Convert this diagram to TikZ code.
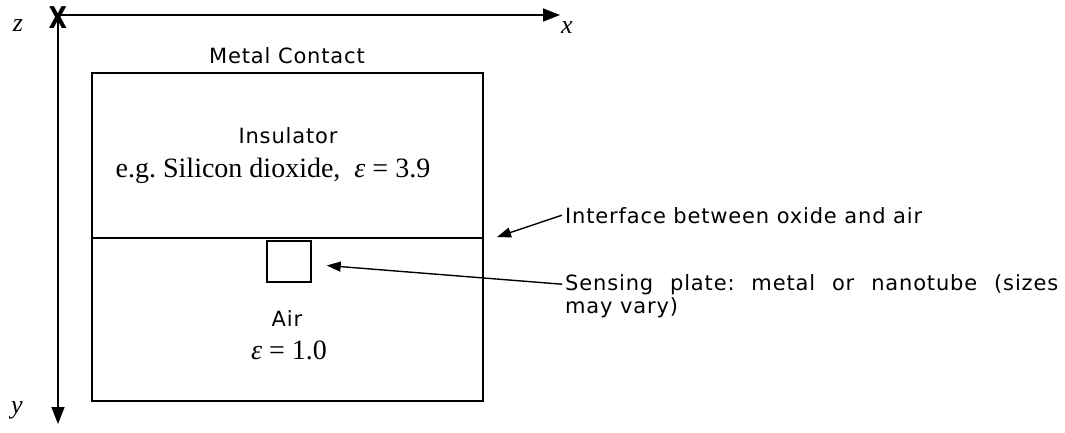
\documentclass[tikz,border=0pt]{standalone}
\usepackage{fontspec}
\setmainfont{Liberation Serif}
\newfontfamily\labelfont[LetterSpace=4]{DejaVu Sans}
\newfontfamily\markfont{DejaVu Sans}
\usetikzlibrary{arrows.meta}
\frenchspacing
\tikzset{
  axis/.style={line width=1.6pt,-{Triangle[length=17pt,width=13pt]}},
  pointer/.style={line width=1.4pt,-{Triangle[length=14pt,width=10pt]}},
  wall/.style={line width=1.6pt},
  lbl/.style={font=\labelfont\fontsize{21}{24}\selectfont,inner sep=0pt,inner xsep=3pt},
  eq/.style={font=\fontsize{28}{32}\selectfont,inner sep=0pt},
  axlbl/.style={font=\itshape\fontsize{26}{28}\selectfont,inner sep=0pt}
}
\begin{document}
\begin{tikzpicture}[x=1pt,y=-1pt]
\useasboundingbox (0,0) rectangle (1065,432);

\coordinate (origin) at (58,15);
\coordinate (xtip) at (560,15);
\coordinate (ytip) at (58,424);
\node[font=\markfont\bfseries\fontsize{30}{30}\selectfont,inner sep=0pt] (xmark) at (58,18) {\scalebox{0.8}[1]{X}};
\draw[axis] (origin) -- (xtip);
\draw[axis] (origin) -- (ytip);
\node[axlbl] (zlabel) at (18,26) {z};
\node[axlbl] (xlabel) at (567,28) {x};
\node[axlbl] (ylabel) at (17,410) {y};

\draw[wall] (92,73) rectangle (483,401);
\draw[line width=1.4pt] (92,238) -- (483,238);
\node[draw,line width=1.4pt,inner sep=0pt,minimum width=44pt,minimum height=41pt] (plate) at (289,261.5) {};

\node[lbl,anchor=base] (contact) at (287,63) {Metal Contact};
\node[lbl,anchor=base] (insulator) at (288,143) {Insulator};
\node[eq,anchor=base] (oxide) at (273,177) {e.g. Silicon dioxide,\ \ {\itshape ε} = 3.9};
\node[lbl,anchor=base] (air) at (287,326) {Air};
\node[eq,anchor=base] (airperm) at (289,359) {{\itshape ε} = 1.0};

\coordinate (iface) at (497,237);
\node[lbl,anchor=base west] (ifacelabel) at (562,223) {Interface between oxide and air};
\draw[pointer] (ifacelabel.west) -- (iface);

\node[lbl,anchor=base west] (platelabel) at (562,290) {\makebox[493pt][s]{Sensing plate: metal or nanotube (sizes}};
\node[lbl,anchor=base west] (platelabel2) at (562,313) {may vary)};
\draw[pointer] (platelabel.west) -- ([xshift=15pt,yshift=-4pt]plate.east);
\end{tikzpicture}
\end{document}
